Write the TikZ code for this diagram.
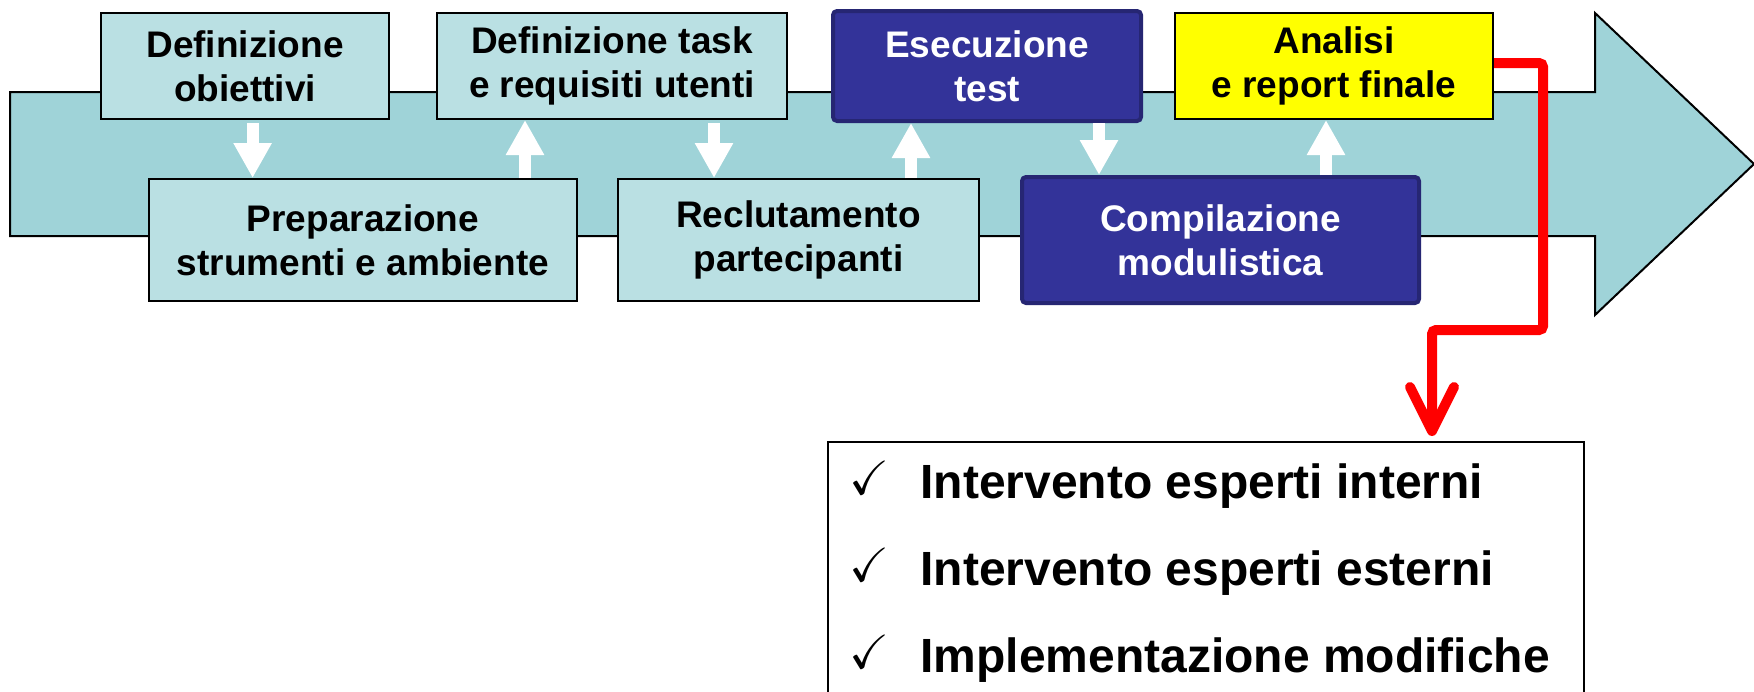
\documentclass[tikz,border=0pt]{standalone}
\usepackage{amssymb}
\usepackage{fontspec}
\setmainfont{Liberation Sans}
\usetikzlibrary{arrows.meta,calc}
\definecolor{arrowteal}{HTML}{9FD3D8}
\definecolor{boxteal}{HTML}{BAE0E3}
\definecolor{navyfill}{HTML}{333399}
\definecolor{navyedge}{HTML}{262673}
\definecolor{yellowfill}{HTML}{FFFF00}
\begin{document}
\begin{tikzpicture}[x=0.5pt,y=-0.5pt,
  boxtext/.style={font=\fontsize{18.5pt}{22pt}\selectfont\bfseries, align=center, inner sep=0pt},
  lbox/.style={boxtext, draw=black, line width=1pt, fill=boxteal, text=black},
  nbox/.style={boxtext, draw=navyedge, line width=2pt, rounded corners=2pt, fill=navyfill, text=white},
  ybox/.style={boxtext, draw=black, line width=1pt, fill=yellowfill, text=black},
  bigarrow/.style={draw=black, line width=1pt, fill=arrowteal},
  warrow/.style={draw=white, line width=6pt, -{Triangle[length=17.5pt,width=18pt]}},
  redline/.style={draw=red, line width=5pt, rounded corners=2pt, -{Straight Barb[length=22pt,width=22pt,round]}},
  listtext/.style={anchor=base west, inner sep=0pt, font=\fontsize{24pt}{28pt}\selectfont\bfseries},
  checktext/.style={anchor=base west, inner sep=0pt, font=\fontsize{24pt}{28pt}\selectfont}
]
\useasboundingbox (0,0) rectangle (1754,691);
\fill[white] (0,0) rectangle (1754,691);

% big process arrow
\draw[bigarrow] (10,92) -- (1595,92) -- (1595,13) -- (1754,164) -- (1595,315) -- (1595,236) -- (10,236) -- cycle;

% step boxes
\node[lbox, minimum width=144pt, minimum height=53pt] (b1) at (245,66) {Definizione\\obiettivi};
\node[lbox, minimum width=214pt, minimum height=61pt] (b2) at (363,240) {Preparazione\\strumenti e ambiente};
\node[lbox, minimum width=175pt, minimum height=53pt] (b3) at (612,66) {Definizione task\\e requisiti utenti};
\node[lbox, minimum width=180.5pt, minimum height=61pt] (b4) at (798.5,240) {Reclutamento\\partecipanti};
\node[nbox, minimum width=154pt, minimum height=55pt] (b5) at (987,66) {Esecuzione\\test};
\node[nbox, minimum width=198.5pt, minimum height=63pt] (b6) at (1220.5,240) {Compilazione\\modulistica};
\node[ybox, minimum width=159pt, minimum height=53pt] (b7) at (1334,66) {Analisi\\e report finale};

% white arrows between steps
\coordinate (x1) at (252.6,0);
\coordinate (x2) at (525,0);
\coordinate (x3) at (714,0);
\coordinate (x4) at (911,0);
\coordinate (x5) at (1099,0);
\coordinate (x6) at (1326,0);
\draw[warrow, shorten <=1.5pt] (b1.south -| x1) -- (b2.north -| x1);
\draw[warrow] (b2.north -| x2) -- (b3.south -| x2);
\draw[warrow, shorten <=1.5pt] (b3.south -| x3) -- (b4.north -| x3);
\draw[warrow] (b4.north -| x4) -- (b5.south -| x4);
\draw[warrow] (b5.south -| x5) -- (b6.north -| x5);
\draw[warrow] (b6.north -| x6) -- (b7.south -| x6);

% list box
\node[draw=black, line width=1pt, fill=white, minimum width=378pt, minimum height=140pt, anchor=north west, inner sep=0pt] (lst) at (827,441) {};
\node[checktext] (c1) at (849,494) {$\checkmark$};
\node[checktext] (c2) at (849,581) {$\checkmark$};
\node[checktext] (c3) at (849,668) {$\checkmark$};
\node[listtext] (t1) at (920,498) {Intervento esperti interni};
\node[listtext] (t2) at (920,585) {Intervento esperti esterni};
\node[listtext] (t3) at (920,672) {Implementazione modifiche};

% red connector
\coordinate (r1) at (1543,63);
\coordinate (r2) at (1543,330);
\coordinate (r3) at (1432,330);
\draw[redline, shorten >=2.5pt] (b7.east |- r1) -- (r1) -- (r2) -- (r3) -- (r3 |- lst.north);
\end{tikzpicture}
\end{document}
